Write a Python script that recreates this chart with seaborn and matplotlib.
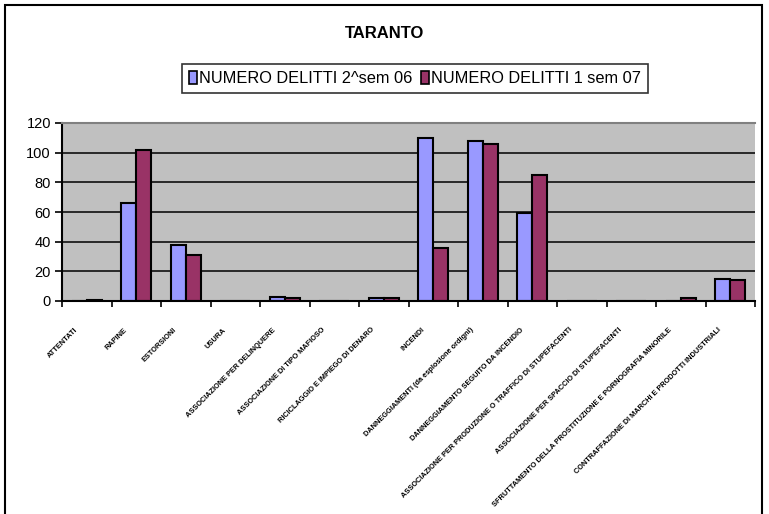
import matplotlib
matplotlib.use("Agg")
import matplotlib.pyplot as plt
import seaborn as sns
import pandas as pd
from matplotlib.patches import Rectangle, Patch
from matplotlib import font_manager
import matplotlib.transforms as mtransforms

categories = [
    "ATTENTATI",
    "RAPINE",
    "ESTORSIONI",
    "USURA",
    "ASSOCIAZIONE PER DELINQUERE",
    "ASSOCIAZIONE DI TIPO MAFIOSO",
    "RICICLAGGIO E IMPIEGO DI DENARO",
    "INCENDI",
    "DANNEGGIAMENTI (da esplosione ordigni)",
    "DANNEGGIAMENTO SEGUITO DA INCENDIO",
    "ASSOCIAZIONE PER PRODUZIONE O TRAFFICO DI STUPEFACENTI",
    "ASSOCIAZIONE PER SPACCIO DI STUPEFACENTI",
    "SFRUTTAMENTO DELLA PROSTITUZIONE E PORNOGRAFIA MINORILE",
    "CONTRAFFAZIONE DI MARCHI E PRODOTTI INDUSTRIALI",
]
series_names = ["NUMERO DELITTI 2^sem 06", "NUMERO DELITTI 1 sem 07"]
sem2_06 = [0, 66, 38, 0, 3, 0, 2, 110, 108, 59, 0, 0, 0, 15]
sem1_07 = [1, 102, 31, 0, 2, 0, 2, 36, 106, 85, 0, 0, 2, 14]
y_ticks = [0, 20, 40, 60, 80, 100, 120]
colors = ["#9999FF", "#993366"]

df = pd.DataFrame({
    "cat": categories * 2,
    "val": sem2_06 + sem1_07,
    "serie": [series_names[0]] * len(categories) + [series_names[1]] * len(categories),
})

sns.set_theme(style="white")
plt.rcParams["font.family"] = ["Liberation Sans", "DejaVu Sans"]
plt.rcParams["text.color"] = "black"
plt.rcParams["xtick.color"] = "black"
plt.rcParams["ytick.color"] = "black"

avail = {f.name for f in font_manager.fontManager.ttflist}
narrow = "Liberation Sans Narrow" if "Liberation Sans Narrow" in avail else "Liberation Sans"
lab_size = 6.3 if narrow == "Liberation Sans Narrow" else 5.3

W, H = 769, 514
fig = plt.figure(figsize=(W / 100, H / 100), dpi=100)
fig.patch.set_facecolor("white")

# outer chart frame (bottom edge cut off)
fig.patches.append(Rectangle((5 / W, -0.05), (762 - 5) / W, (H - 5) / H + 0.05,
                             transform=fig.transFigure, fill=False,
                             edgecolor="black", linewidth=1.5))

ax = fig.add_axes([62 / W, 1 - 301 / H, (755 - 62) / W, (301 - 123) / H])
ax.set_facecolor("#C0C0C0")

sns.barplot(data=df, x="cat", y="val", hue="serie", palette=colors,
            width=0.6, edgecolor="black", linewidth=1.5, ax=ax,
            order=categories, hue_order=series_names, saturation=1)
if ax.get_legend() is not None:
    ax.get_legend().remove()

ax.set_ylim(0, 120)
ax.set_xlim(-0.5, len(categories) - 0.5)
ax.set_yticks(y_ticks)
ax.set_yticklabels([str(v) for v in y_ticks], fontsize=10.5, color="black")
for v in y_ticks[1:-1]:
    ax.axhline(v, color="black", linewidth=1.1, zorder=0.5)
ax.set_axisbelow(True)
ax.set_xlabel("")
ax.set_ylabel("")

# category boundaries as tick marks, labels at centers
ax.set_xticks([i - 0.5 for i in range(len(categories) + 1)])
ax.set_xticklabels([])
ax.set_xticks(range(len(categories)), minor=True)
ax.set_xticklabels(categories, minor=True, rotation=45, ha="right", va="center",
                   rotation_mode="anchor", fontsize=lab_size, family=narrow,
                   fontweight="bold", color="black")
ax.tick_params(axis="x", which="major", direction="out", length=4, width=1.2, color="black", bottom=True)
ax.tick_params(axis="x", which="minor", length=0, pad=0)
ax.tick_params(axis="y", direction="out", length=5, width=1.2, color="black", left=True, pad=3)
offset = mtransforms.ScaledTranslation(-10 / 100, -28 / 100, fig.dpi_scale_trans)
for lab in ax.get_xticklabels(minor=True):
    lab.set_transform(lab.get_transform() + offset)

for s in ["left", "bottom"]:
    ax.spines[s].set_color("black")
    ax.spines[s].set_linewidth(1.5)
ax.spines["top"].set_color("#808080")
ax.spines["top"].set_linewidth(1.5)
ax.spines["right"].set_visible(False)

fig.text(385 / W, 1 - 33 / H, "TARANTO", ha="center", va="center",
         fontsize=12, fontweight="bold", color="black")

handles = [Patch(facecolor=c, edgecolor="black", linewidth=1.2) for c in colors]
leg = fig.legend(handles, series_names, loc="center", ncol=2,
                 bbox_to_anchor=(415 / W, 1 - 78.5 / H), fontsize=11.8,
                 frameon=True, fancybox=False, handlelength=0.5, handleheight=0.8,
                 handletextpad=0.15, columnspacing=0.5, borderpad=0.4)
leg.get_frame().set_edgecolor("black")
leg.get_frame().set_linewidth(1.2)
for t in leg.get_texts():
    t.set_color("black")

fig.savefig("out.png", dpi=100)
